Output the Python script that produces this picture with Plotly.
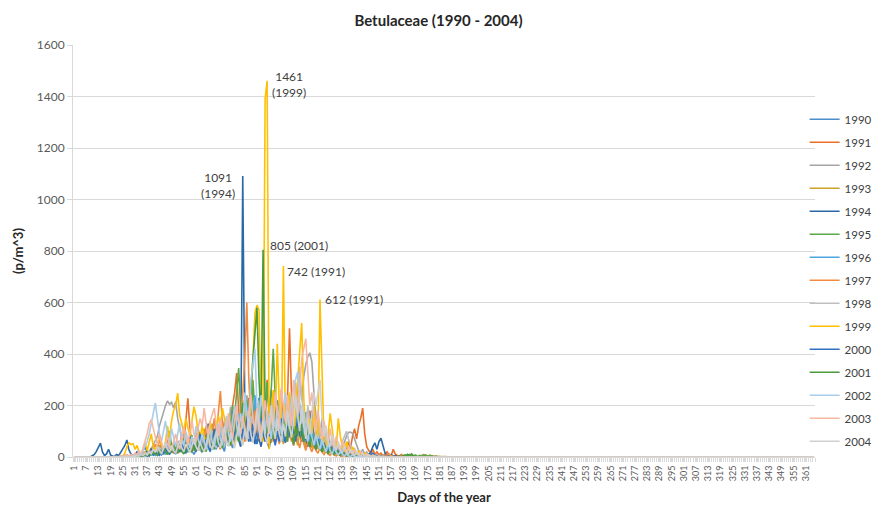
import plotly.graph_objects as go

# Daily Betulaceae pollen concentration (p/m^3), one list per year starting on day 1.
# Days not listed carry no pollen (0).
DAYS = list(range(1, 366))
TICK_DAYS = list(range(1, 366, 6))
YEARS = [str(y) for y in range(1990, 2005)]

v1990 = [0,0,0,0,0,0,0,0,0,0, 0,0,2,0,0,1,0,0,3,0, 0,2,5,1,0,4,8,3,0,2,
         6,12,4,9,15,7,3,18,25,10, 14,30,22,8,16,40,28,12,20,35, 18,45,60,32,20,15,38,52,24,10,
         26,48,30,18,42,70,36,20,58,44, 30,65,90,40,22,75,110,60,35,80, 130,70,45,95,160,80,120,200,90,60,
         140,230,110,70,180,95,150,260,120,80, 170,110,60,145,220,100,75,190,130,85, 240,150,90,60,175,110,70,130,200,95,
         60,110,80,40,95,55,30,70,45,25, 50,35,20,40,28,15,30,22,12,18, 10,20,8,14,6,12,5,9,4,7,
         3,6,2,5,8,3,2,4,1,3, 2,0,3,1,0,2,0,1,0,0]
v1991 = [0,0,0,0,0,0,0,0,0,0, 0,0,0,0,1,0,0,2,0,0, 1,0,3,0,2,5,1,0,4,2,
         8,3,12,6,2,15,9,20,35,14, 22,10,45,28,12,38,20,55,30,16, 40,62,25,90,48,130,228,110,50,35,
         70,42,95,60,30,80,120,55,40,65, 100,48,30,85,140,70,45,110,200,250, 326,180,90,140,60,110,230,150,70,190,
         120,60,210,90,160,300,140,80,250,120, 180,90,260,140,70,220,500,240,110,160, 80,200,130,60,150,90,180,100,50,120,
         70,40,90,55,30,65,25,45,20,35, 15,30,10,40,25,60,35,80,110,70, 120,150,190,90,40,25,15,30,10,20,
         8,15,5,12,20,8,4,30,12,6, 4,10,3,6,2,8,3,1,2,0, 2,6,3,8,4,1,5,2,0,3, 1,0,2,0,1]
v1992 = [0,0,0,0,0,0,0,0,0,0, 0,0,0,0,0,0,1,0,0,0, 0,1,0,2,0,0,3,1,0,2,
         4,2,8,5,12,6,20,15,30,45, 60,80,120,150,180,200,218,205,212,190, 215,150,110,70,90,60,40,75,50,30,
         45,28,60,35,20,50,80,45,30,60, 90,50,35,110,70,140,100,195,120,60, 150,90,200,130,70,240,160,100,60,130,
         210,120,80,160,100,60,140,230,110,70, 180,120,90,60,150,210,130,80,170,250, 160,300,220,310,360,390,404,370,250,160,
         120,80,150,60,40,90,50,30,60,25, 45,20,35,60,80,95,97,92,70,40, 25,15,30,10,20,8,12,5,10,4,
         6,3,8,2,5,1,4,2,0,3, 1,0,2,0,1,0,0,1,0,0]
v1993 = [0,0,0,0,0,0,0,0,0,0, 0,0,0,0,0,0,0,0,1,0, 2,0,1,3,0,5,2,1,6,3,
         10,4,15,8,3,20,12,6,25,18, 9,30,16,40,22,10,35,55,28,14, 45,30,18,60,38,22,75,40,26,55,
         90,48,30,70,110,58,36,85,130,60, 40,95,150,80,50,120,70,45,100,160, 90,60,140,220,110,70,180,130,80,150,
         100,60,200,120,75,140,90,55,170,110, 70,130,85,50,110,160,90,60,120,75, 45,90,140,70,40,100,60,35,80,50,
         30,60,40,20,50,30,15,35,20,10, 25,15,8,20,10,5,14,6,3,9, 4,8,2,6,3,1,5,2,0,3,
         1,2,0,1,3,0,1,0,2,0, 0,1,0,0,2,0,0,1,0,0]
v1994 = [0,0,0,0,0,0,0,2,0,5, 10,22,40,54,20,6,12,30,8,3, 4,10,5,18,30,45,66,28,12,6,
         10,20,8,15,25,40,18,10,30,22, 12,35,20,48,26,15,55,30,18,40, 25,60,35,20,70,45,28,85,50,30,
         65,110,70,40,95,60,130,80,50,100, 70,45,120,90,60,150,100,70,180,120, 90,60,40,1091,200,90,60,130,80,50,
         110,70,40,90,150,60,35,80,120,55, 90,140,200,110,60,95,150,80,45,100, 170,90,60,130,70,40,110,180,60,30,
         80,45,25,60,35,20,50,30,15,40, 20,10,30,15,8,20,12,5,15,8, 4,10,3,6,2,8,20,40,55,30,
         60,73,40,15,8,4,10,3,5,1, 2,0,3,1,0,1,0,0,1,0]
v1995 = [0,0,0,0,0,0,0,0,0,0, 0,0,0,0,0,0,0,0,0,1, 0,2,0,1,3,0,2,4,1,0,
         5,2,8,3,12,6,18,10,25,8, 15,30,12,22,40,18,60,100,45,25, 35,55,20,40,70,30,18,50,85,40,
         25,60,35,80,45,20,55,95,40,30, 70,110,60,40,90,150,80,120,200,160, 250,345,180,120,80,220,140,90,300,170,
         120,200,90,150,110,290,180,260,420,230, 150,100,180,120,70,160,240,110,80,140, 200,120,70,160,100,60,130,80,40,100,
         60,30,80,45,25,50,20,35,15,30, 12,25,8,18,5,12,4,10,3,8, 2,6,1,4,0,3,1,2,0,1,
         0,2,0,1,0,0,1,0,0,0, 0,2,5,8,4,10,6,3,8,2, 6,3,9,5,2,7,3,1,4,0, 2,1,0,1,0]
v1996 = [0,0,0,0,0,0,0,0,0,0, 0,0,0,0,0,0,0,0,0,0, 0,0,1,0,2,0,1,3,0,2,
         4,1,6,3,10,5,14,8,20,12, 6,18,30,14,24,10,35,20,45,25, 15,40,22,60,30,18,50,35,20,70,
         40,25,55,85,45,30,70,40,100,60, 35,80,120,70,45,100,60,140,90,55, 110,170,90,60,130,200,110,80,160,240,
         130,90,180,120,70,150,100,210,140,80, 120,180,90,60,140,100,230,160,90,130, 280,200,120,80,150,90,60,110,70,40,
         90,55,30,70,40,25,60,35,15,45, 20,10,30,15,8,20,10,5,12,6, 3,8,2,5,1,4,0,3,1,2,
         0,1,0,2,0,1,0,0,1,0]
v1997 = [0,0,0,0,0,0,0,0,0,0, 0,0,0,0,0,0,0,0,1,0, 0,1,0,2,0,3,1,0,2,4,
         2,6,3,10,4,15,8,22,12,30, 50,25,70,40,18,30,60,35,20,45, 28,15,38,60,30,20,50,70,40,25,
         55,90,45,30,75,120,60,40,85,150, 90,180,256,130,70,110,60,90,150,200, 120,80,160,250,380,600,300,140,90,180,
         110,70,150,90,60,120,200,100,60,130, 80,50,110,170,90,60,120,80,45,95, 60,35,80,50,25,60,40,20,45,25,
         15,35,20,10,25,12,6,18,8,4, 12,5,2,8,3,1,5,2,0,3, 1,2,0,1,0,4,10,6,2,1,
         0,1,0,3,8,12,5,2,1,0, 0,2,0,1,0,0,1,0,0,0]
v1998 = [0,0,0,0,0,0,0,0,0,0, 0,0,0,0,0,0,0,0,0,0, 0,0,2,0,1,0,3,0,2,1,
         5,2,8,4,12,6,16,9,22,12, 30,18,40,25,14,35,55,30,20,45, 28,18,40,60,35,22,50,30,18,40,
         65,35,25,55,80,45,30,60,100,55, 35,70,120,65,40,90,150,80,50,110, 170,90,60,130,200,110,70,160,120,80,
         140,220,120,80,170,100,60,130,250,140, 90,160,110,70,140,200,120,80,180,290, 180,350,240,150,100,200,130,80,160,90,
         60,120,70,40,90,50,30,70,40,20, 50,25,60,80,100,70,40,20,35,15, 8,20,10,5,12,4,8,2,5,1,
         3,0,2,1,0,2,0,1,0,0, 1,0,0,2,0,0,1,0,0,0]
v1999 = [0,0,0,0,0,0,0,0,0,0, 0,0,0,0,0,0,0,0,0,0, 0,0,2,0,5,15,40,55,48,52,
         30,45,20,12,30,55,25,60,90,40, 25,50,80,45,30,60,120,70,140,180, 200,248,160,130,90,150,110,80,140,195,
         160,100,70,120,85,50,95,140,70,45, 100,160,120,190,150,80,60,110,70,45, 90,140,80,50,110,180,120,230,380,560,
         590,570,200,60,1390,1461,30,180,260,140, 440,200,60,742,90,160,250,120,70,180, 300,420,520,230,100,60,150,90,200,120,
         80,612,280,60,40,90,170,110,50,30, 150,80,40,20,60,30,15,40,20,10, 25,12,6,15,4,8,2,5,1,3,
         0,2,0,1,0,0,1,0,0,0]
v2000 = [0,0,0,0,0,0,0,0,0,0, 0,0,0,0,0,0,0,0,0,0, 0,1,0,0,2,0,1,0,3,1,
         2,5,1,8,3,12,6,4,15,8, 20,10,6,25,14,30,18,10,40,22, 12,35,20,50,28,16,45,25,60,35,
         20,55,90,45,30,70,40,25,60,110, 70,40,85,55,120,75,45,100,60,90, 140,80,50,110,70,160,100,60,130,80,
         50,120,180,90,60,140,80,110,70,45, 100,60,150,90,55,120,80,140,100,60, 130,170,90,60,110,70,40,85,50,30,
         70,40,20,55,30,15,45,25,10,35, 18,8,25,12,5,15,8,3,10,4, 2,6,1,4,0,2,8,15,6,2,
         1,3,0,2,0,1,0,0,1,0]
v2001 = [0,0,0,0,0,0,0,0,0,0, 0,0,0,0,0,0,0,0,0,0, 0,0,1,0,0,2,0,1,0,3,
         1,4,2,6,3,10,5,14,8,20, 12,6,25,15,40,20,10,30,18,55, 28,15,40,22,12,35,60,30,18,45,
         25,70,40,20,55,35,90,50,30,75, 45,100,60,35,80,130,70,45,110,160, 90,60,140,210,120,70,180,250,380,480,
         580,300,150,805,200,90,160,110,70,140, 220,130,80,170,110,60,150,90,50,120, 80,160,100,60,130,70,40,90,55,30,
         65,35,20,50,25,12,40,20,8,30, 15,6,20,10,4,12,5,2,8,3, 1,5,0,3,1,0,2,0,1,0,
         0,1,0,0,2,0,0,1,0,0, 3,0,6,2,10,4,12,5,2,0]
v2002 = [0,0,0,0,0,0,0,0,0,0, 0,0,0,0,0,0,0,0,0,0, 0,2,0,1,4,0,2,6,1,3,
         8,4,15,10,25,40,60,90,130,170, 210,150,90,60,100,140,80,50,110,70, 40,90,130,70,45,100,60,35,80,50,
         120,70,45,90,60,30,75,110,55,40, 85,130,70,45,100,160,90,60,140,200, 120,80,170,110,250,160,100,300,360,420,
         200,130,240,150,90,180,120,70,160,110, 200,140,90,170,250,160,110,220,280,300, 330,200,130,180,100,60,120,80,45,90,
         50,30,70,40,20,55,25,12,35,18, 8,20,10,4,12,5,2,7,3,1, 4,0,2,1,0,3,0,1,0,0]
v2003 = [0,0,0,0,0,0,0,0,0,0, 0,0,0,1,0,0,2,0,0,1, 3,0,2,5,1,4,8,3,10,6,
         15,8,25,12,40,60,90,130,145,110, 70,45,90,60,30,55,80,45,25,60, 90,50,30,70,120,80,45,100,140,90,
         60,110,150,120,190,130,80,140,170,190, 120,80,150,100,60,120,170,110,70,140, 200,130,90,160,110,70,180,240,150,100,
         190,130,80,150,220,140,90,170,120,250, 180,110,270,200,130,240,180,120,300,220, 150,260,380,420,460,330,200,250,150,100,
         180,120,70,140,90,50,110,60,35,80, 45,25,60,35,15,40,20,10,30,15, 8,20,10,4,12,5,2,8,3,1,
         4,0,2,1,0,2,0,1,0,0, 0,1,0,0,1,0,0,0,1,0]
v2004 = [0,0,0,0,0,0,0,0,0,0, 0,0,0,0,0,0,0,0,0,0, 0,0,1,0,2,0,3,1,0,4,
         2,6,3,10,5,15,8,20,12,30, 18,40,25,12,35,55,30,18,45,25, 15,40,65,35,20,50,30,18,45,70,
         40,25,60,35,20,55,85,45,30,70, 100,55,35,80,120,65,40,95,60,35, 80,130,70,45,110,60,150,90,55,120,
         180,100,60,140,80,50,120,200,110,70, 150,90,60,130,80,180,120,75,140,240, 160,100,200,120,70,150,90,160,250,200,
         260,300,150,80,120,60,40,90,50,25, 60,30,15,45,20,10,30,15,6,20, 10,4,12,5,2,8,3,1,4,0,
         2,0,1,0,0,1,0,0,0,0]

SERIES = [v1990, v1991, v1992, v1993, v1994, v1995, v1996, v1997,
          v1998, v1999, v2000, v2001, v2002, v2003, v2004]

COLORS = ["#4A8FCB", "#E8702A", "#A5A5A5", "#C9A227", "#2B69A6",
          "#5DA847", "#4DA6E0", "#F28B3E", "#BFBFBF", "#FFC000",
          "#2F72BF", "#4C9A3A", "#A9CDEB", "#F7B8A2", "#D0D0D0"]

# Labelled maxima: (day, value, label)
PEAKS = [
    (96, 1461, "1461<br>(1999)"),
    (84, 1091, "1091<br>(1994)"),
    (94, 805, "805 (2001)"),
    (104, 742, "742 (1991)"),
    (122, 612, "612 (1991)"),
]

FONT = "Lato, 'Open Sans', sans-serif"

fig = go.Figure()
for year, vals, color in zip(YEARS, SERIES, COLORS):
    full = list(vals) + [0] * (len(DAYS) - len(vals))
    fig.add_trace(go.Scatter(
        x=DAYS, y=full, mode="lines", name=year, legendgroup=year,
        line=dict(color=color, width=1.6),
    ))

# place labels next to their peaks
label_pos = {
    1461: dict(xanchor="left", xshift=3, yshift=-4),
    1091: dict(xanchor="right", xshift=-6, yshift=-9),
    805: dict(xanchor="left", xshift=5, yshift=4),
    742: dict(xanchor="left", xshift=2, yshift=-6),
    612: dict(xanchor="left", xshift=3, yshift=0),
}
for day, val, text in PEAKS:
    fig.add_annotation(
        x=day, y=val, text=text, showarrow=False, align="center",
        yanchor="middle", font=dict(size=12, color="#404040", family=FONT),
        **label_pos[val],
    )

fig.update_layout(
    width=877, height=507,
    margin=dict(l=73, r=62, t=45, b=50, autoexpand=False),
    paper_bgcolor="white", plot_bgcolor="white",
    font=dict(family=FONT, color="#595959"),
    title=dict(text="<b>Betulaceae (1990 - 2004)</b>", x=0.5, xanchor="center",
               y=0.96, yanchor="middle", font=dict(size=15, color="#262626")),
    showlegend=True,
    legend=dict(x=0.986, xanchor="left", y=0.855, yanchor="top",
                font=dict(size=11.5, color="#404040"), tracegroupgap=4,
                bgcolor="rgba(0,0,0,0)", itemwidth=30),
    xaxis=dict(
        range=[0.5, 365.5], tickmode="array", tickvals=TICK_DAYS,
        ticktext=[str(d) for d in TICK_DAYS], tickangle=-90,
        tickfont=dict(size=9, color="#595959"),
        showgrid=False, zeroline=False, showline=True, linecolor="#D9D9D9",
        ticks="outside", ticklen=4, tickcolor="#D9D9D9",
        minor=dict(tick0=0.5, dtick=1, ticks="outside", ticklen=4,
                   tickcolor="#D9D9D9", showgrid=False),
        title=dict(text="<b>Days of the year</b>", standoff=12,
                   font=dict(size=13, color="#262626")),
        automargin=False,
    ),
    yaxis=dict(
        range=[0, 1600], dtick=200, tickfont=dict(size=12, color="#595959"),
        gridcolor="#D9D9D9", gridwidth=1, zeroline=False,
        showline=True, linecolor="#D9D9D9", ticks="outside", ticklen=5,
        tickcolor="#D9D9D9",
        title=dict(text="<b>(p/m^3)</b>", standoff=10,
                   font=dict(size=13, color="#262626")),
        automargin=False,
    ),
)

fig.write_html("out.html")
